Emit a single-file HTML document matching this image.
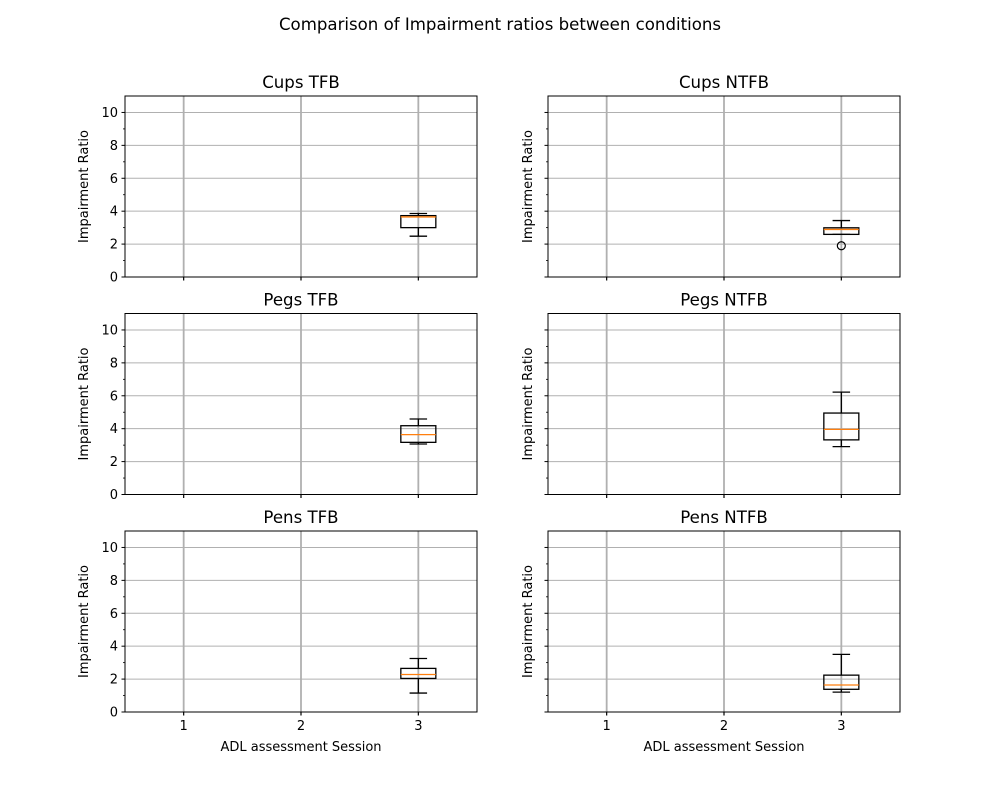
<!DOCTYPE html>
<html><head><meta charset="utf-8"><style>body{margin:0;background:#fff}svg{display:block;font-family:"DejaVu Sans","Liberation Sans",sans-serif}</style></head>
<body>
<svg id="fig" width="1000" height="800">
<text x="500" y="30" text-anchor="middle" font-size="16.6">Comparison of Impairment ratios between conditions</text>
</svg>
<script>
const titles = ["Cups TFB","Cups NTFB","Pegs TFB","Pegs NTFB","Pens TFB","Pens NTFB"];
const categories = [1,2,3];
const whiskerLow = [2.48,2.59,3.07,2.91,1.15,1.21];
const q1 = [3.0,2.59,3.17,3.32,2.04,1.38];
const medians = [3.65,2.89,3.64,3.96,2.28,1.64];
const q3 = [3.73,2.99,4.18,4.95,2.65,2.24];
const whiskerHigh = [3.86,3.43,4.59,6.22,3.25,3.5];
const outliers = [[],[1.9],[],[],[],[]];
const yTicks = [0,2,4,6,8,10];
const yMinor = [1,3,5,7,9];
const NS="http://www.w3.org/2000/svg";
const svg=document.getElementById('fig');
function mk(tag,attrs,parent){const e=document.createElementNS(NS,tag);for(const k in attrs)e.setAttribute(k,attrs[k]);(parent||svg).appendChild(e);return e;}
const lefts=[125,548], tops=[96,313.5,531], W=352, H=181;
titles.forEach((t,i)=>{
  const col=i%2,row=Math.floor(i/2);
  const x0=lefts[col],y0=tops[row];
  const g=mk('g',{});
  
  
  const sx=v=>x0+(v-0.5)/3*W, sy=v=>y0+H-v/11*H;
  yTicks.forEach(v=>{
    mk('line',{x1:x0,x2:x0+W,y1:sy(v),y2:sy(v),stroke:'#b0b0b0','stroke-width':1},g);
    mk('line',{x1:x0-3.5,x2:x0,y1:sy(v),y2:sy(v),stroke:'#000','stroke-width':1},g);
    if(col===0){const tx=mk('text',{x:x0-7,y:sy(v)+4.5,'text-anchor':'end','font-size':13},g);tx.textContent=v;}
  });
  yMinor.forEach(v=>mk('line',{x1:x0-2,x2:x0,y1:sy(v),y2:sy(v),stroke:'#000','stroke-width':0.8},g));
  categories.forEach(c=>{
    mk('line',{x1:sx(c),x2:sx(c),y1:y0,y2:y0+H,stroke:'#b0b0b0','stroke-width':1.8},g);
    mk('line',{x1:sx(c),x2:sx(c),y1:y0+H,y2:y0+H+3.5,stroke:'#000','stroke-width':1.2},g);
    if(row===2){const tx=mk('text',{x:sx(c),y:y0+H+18,'text-anchor':'middle','font-size':13},g);tx.textContent=c;}
  });
  const cx=sx(3),bw=35,cw=17.5;
  const b=mk('g',{},g);
  
  
  mk('line',{x1:cx,x2:cx,y1:sy(whiskerLow[i]),y2:sy(q1[i]),stroke:'#000','stroke-width':1.3},b);
  mk('line',{x1:cx,x2:cx,y1:sy(q3[i]),y2:sy(whiskerHigh[i]),stroke:'#000','stroke-width':1.3},b);
  mk('line',{x1:cx-cw/2,x2:cx+cw/2,y1:sy(whiskerLow[i]),y2:sy(whiskerLow[i]),stroke:'#000','stroke-width':1.3},b);
  mk('line',{x1:cx-cw/2,x2:cx+cw/2,y1:sy(whiskerHigh[i]),y2:sy(whiskerHigh[i]),stroke:'#000','stroke-width':1.3},b);
  mk('rect',{x:cx-bw/2,y:sy(q3[i]),width:bw,height:sy(q1[i])-sy(q3[i]),fill:'none',stroke:'#000','stroke-width':1.3},b);
  mk('line',{x1:cx-bw/2,x2:cx+bw/2,y1:sy(medians[i]),y2:sy(medians[i]),stroke:'#ff7f0e','stroke-width':1.3},b);
  outliers[i].forEach(o=>mk('circle',{cx:cx,cy:sy(o),r:4,fill:'none',stroke:'#000','stroke-width':1.2},b));
  mk('rect',{x:x0,y:y0,width:W,height:H,fill:'none',stroke:'#000','stroke-width':1},g);
  const tt=mk('text',{x:x0+W/2,y:y0-8,'text-anchor':'middle','font-size':16.6},g);tt.textContent=t;
  const lx = col===0 ? x0-37 : x0-16;
  const yl=mk('text',{x:0,y:0,'text-anchor':'middle','font-size':13,transform:`translate(${lx},${y0+H/2}) rotate(-90)`},g);yl.textContent='Impairment Ratio';
  if(row===2){const xl=mk('text',{x:x0+W/2,y:y0+H+39,'text-anchor':'middle','font-size':13},g);xl.textContent='ADL assessment Session';}
});
</script>
</body></html>
